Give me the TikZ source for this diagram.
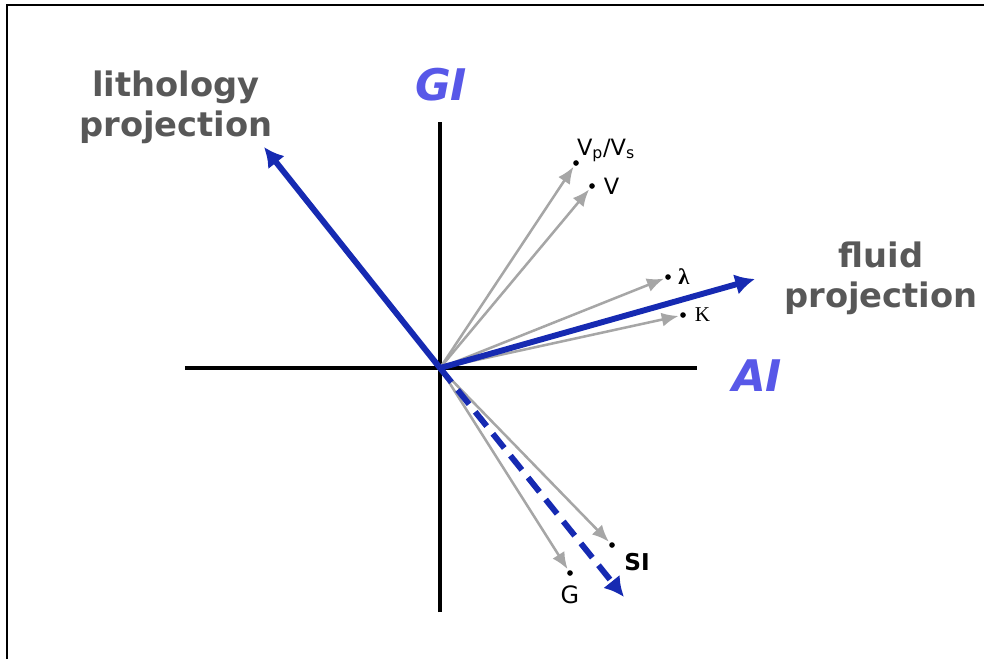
\documentclass[tikz,border=0pt]{standalone}
\usepackage{fontspec}
\usetikzlibrary{arrows.meta,positioning}
\newfontfamily\verd{DejaVu Sans}
\newfontfamily\tms{Liberation Serif}
\definecolor{projblue}{RGB}{22,42,178}
\definecolor{axisblue}{RGB}{88,88,232}
\definecolor{labgray}{RGB}{88,88,88}
\begin{document}
\begin{tikzpicture}[
   axis/.style={black, line width=2.2pt},
   attr/.style={draw=black!35, line width=1.8pt, shorten >=1pt, -{Latex[length=12pt,width=10pt]}},
   proj/.style={draw=projblue, line width=4.2pt, -{Latex[length=14pt,width=15pt]}},
   tipdot/.style={circle, fill=black, inner sep=0pt, minimum size=4pt},
   bigname/.style={text=labgray, font=\verd\bfseries\fontsize{24}{28.5}\selectfont, align=center},
   axisname/.style={text=axisblue, font=\verd\bfseries\itshape\fontsize{31}{31}\selectfont},
   small/.style={font=\verd\fontsize{16}{16}\selectfont, inner sep=1pt}]

   \useasboundingbox (-11,-7.275) rectangle (13.6,9.2);

   % frame (only top and left edge visible)
   \draw[line width=1.8pt] (-10.825,-7.275) -- (-10.825,9.075) -- (13.6,9.075);

   % axes
   \coordinate (O) at (0,0);
   \coordinate (xl) at (-6.375,0);
   \coordinate (xr) at (6.425,0);
   \coordinate (yb) at (0,-6.1);
   \coordinate (yt) at (0,6.15);
   \draw[axis] (xl) -- (xr);
   \draw[axis] (yb) -- (yt);

   \node[axisname] (gi) at (0.025,7.075) {GI};
   \node[axisname] (ai) at (7.925,-0.2) {AI};

   % attribute end points
   \node[tipdot] (vpvs) at (3.4,5.125) {};
   \node[tipdot] (vel)  at (3.8,4.55) {};
   \node[tipdot] (lam)  at (5.7,2.275) {};
   \node[tipdot] (kk)   at (6.075,1.325) {};
   \node[tipdot] (si)   at (4.3,-4.425) {};
   \node[tipdot] (gg)   at (3.25,-5.125) {};

   \draw[attr] (O) -- (vpvs);
   \draw[attr] (O) -- (vel);
   \draw[attr] (O) -- (lam);
   \draw[attr] (O) -- (kk);
   \draw[attr] (O) -- (si);
   \draw[attr] (O) -- (gg);

   % projections
   \coordinate (lith) at (-4.4,5.525);
   \coordinate (fluid) at (7.875,2.225);
   \coordinate (shear) at (4.6,-5.725);
   \draw[proj] (O) -- (lith);
   \draw[proj] (O) -- (fluid);
   \draw[proj, dash pattern=on 13pt off 7pt] (O) -- (shear);

   \node[bigname] (lithlab) at (-6.6,6.525) {lithology\\projection};
   \node[bigname] (fluidlab) at (11.025,2.25) {fluid\\projection};

   % attribute labels
   \node[small, above right=-2pt and -2pt of vpvs] (vpvslab) {V\textsubscript{p}/V\textsubscript{s}};
   \node[small, right=5pt of vel] (vellab) {V};
   \node[right=4pt of lam, inner sep=1pt, font=\tms\bfseries\fontsize{16}{16}\selectfont] (lamlab) {λ};
   \node[right=5pt of kk, inner sep=1pt, font=\tms\fontsize{15}{15}\selectfont] (klab) {K};
   \node[below right=3pt and 6pt of si, inner sep=1pt, font=\verd\bfseries\fontsize{16.5}{16.5}\selectfont] (silab) {SI};
   \node[below=6pt of gg, inner sep=1pt, font=\verd\fontsize{17}{17}\selectfont] (glab) {G};

\end{tikzpicture}
\end{document}
